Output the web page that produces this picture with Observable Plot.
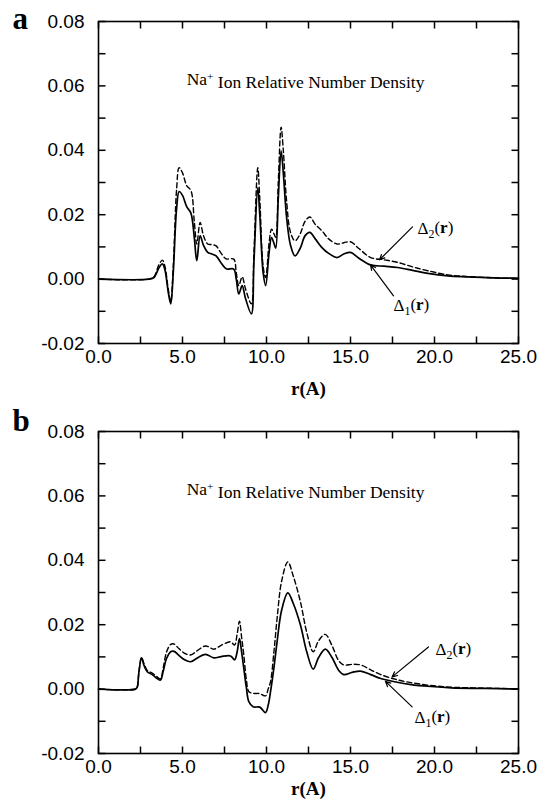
<!DOCTYPE html>
<html>
<head>
<meta charset="utf-8">
<script src="https://cdn.jsdelivr.net/npm/d3@7"></script>
<script src="https://cdn.jsdelivr.net/npm/@observablehq/plot@0.6"></script>
<style>
  html, body { margin: 0; padding: 0; background: #fff; }
  #wrap { position: relative; width: 542px; height: 800px; overflow: hidden; background: #fff; }
  .pane { position: absolute; left: 0; }
</style>
</head>
<body>
<div id="wrap">
  <div id="pa" class="pane" style="top:0px"></div>
  <div id="pb" class="pane" style="top:410px"></div>
</div>
<script>
// ---------- Data ----------
// Panel a : r (Å), Δ1 (solid), Δ2 (dashed)
const rA  = [0, 3.0, 3.3, 3.6, 3.8, 3.95, 4.15, 4.3, 4.45, 4.65, 4.8, 5.0, 5.25, 5.5, 5.7, 5.85, 6.05, 6.25, 6.5, 6.75, 7.0, 7.3, 7.6, 8.05, 8.2, 8.35, 8.55, 8.75, 9.1, 9.25, 9.48, 9.6, 9.8, 9.95, 10.15, 10.3, 10.45, 10.55, 10.7, 10.87, 11.0, 11.2, 11.43, 11.7, 12.0, 12.3, 12.58, 12.9, 13.3, 13.7, 14.2, 14.6, 15.0, 15.5, 16.2, 17.0, 17.8, 18.7, 19.6, 20.8, 21.9, 23.5, 25];
const a1 = [0, 0, 0.0005, 0.0035, 0.0047, 0.003, -0.004, -0.0077, 0.002, 0.022, 0.0272, 0.026, 0.0225, 0.0205, 0.013, 0.0057, 0.0134, 0.0105, 0.0083, 0.0078, 0.0072, 0.005, 0.0032, 0.0031, 0.0, -0.0046, -0.002, -0.006, -0.0108, 0.005, 0.0284, 0.02, 0.002, -0.002, 0.008, 0.0129, 0.011, 0.0096, 0.025, 0.0398, 0.033, 0.019, 0.0105, 0.0072, 0.0095, 0.0135, 0.0145, 0.0125, 0.0098, 0.008, 0.0067, 0.0078, 0.0083, 0.0065, 0.0044, 0.004, 0.0036, 0.0027, 0.0018, 0.001, 0.0007, 0.0004, 0.0003];
const a2 = [0, 0, 0.0007, 0.0045, 0.0059, 0.004, -0.003, -0.007, 0.004, 0.028, 0.0346, 0.033, 0.029, 0.0275, 0.018, 0.0109, 0.0176, 0.0135, 0.0109, 0.0107, 0.0103, 0.008, 0.0063, 0.0062, 0.002, -0.002, 0.0007, -0.003, -0.0077, 0.008, 0.0346, 0.025, 0.004, 0.0005, 0.011, 0.0155, 0.014, 0.013, 0.03, 0.0472, 0.04, 0.024, 0.0145, 0.0119, 0.014, 0.018, 0.0193, 0.017, 0.015, 0.0125, 0.0109, 0.0113, 0.0116, 0.0095, 0.0067, 0.006, 0.0052, 0.0038, 0.0026, 0.0013, 0.0008, 0.0004, 0.0002];

// Panel b : r (Å), Δ1 (solid), Δ2 (dashed)
const rB  = [0, 2.2, 2.3, 2.4, 2.56, 2.7, 2.9, 3.2, 3.49, 3.69, 3.85, 4.05, 4.3, 4.5, 4.8, 5.1, 5.48, 5.9, 6.37, 6.87, 7.3, 7.86, 8.1, 8.25, 8.39, 8.52, 8.65, 8.8, 8.95, 9.2, 9.6, 9.94, 10.1, 10.24, 10.45, 10.63, 10.9, 11.27, 11.6, 12.02, 12.4, 12.78, 13.1, 13.5, 13.9, 14.3, 14.6, 15.1, 15.6, 16.2, 16.8, 17.7, 18.6, 19.8, 21.0, 23.0, 25];
const b1 = [0, 0, 0.0005, 0.005, 0.0097, 0.0075, 0.0054, 0.0045, 0.0033, 0.0028, 0.0055, 0.0095, 0.0116, 0.0117, 0.0104, 0.0092, 0.0085, 0.0097, 0.0108, 0.0097, 0.0101, 0.0103, 0.0091, 0.0115, 0.0157, 0.0115, 0.0064, 0.0005, -0.0039, -0.0055, -0.0056, -0.0073, -0.005, -0.0008, 0.007, 0.0147, 0.0245, 0.0299, 0.0265, 0.0199, 0.0115, 0.0062, 0.0098, 0.0124, 0.0098, 0.0058, 0.0045, 0.0052, 0.0056, 0.0045, 0.0033, 0.0022, 0.0014, 0.0008, 0.0004, 0.0002, 0.0];
const b2 = [0, 0, 0.0005, 0.005, 0.0099, 0.008, 0.0058, 0.005, 0.0038, 0.0032, 0.0065, 0.0115, 0.0139, 0.014, 0.0125, 0.0112, 0.0106, 0.012, 0.0134, 0.0124, 0.0136, 0.0147, 0.0137, 0.017, 0.0211, 0.016, 0.0106, 0.003, -0.0008, -0.0013, -0.0014, -0.0021, 0.0, 0.0023, 0.012, 0.0219, 0.0335, 0.0395, 0.035, 0.0271, 0.0175, 0.0116, 0.015, 0.017, 0.0135, 0.0088, 0.0075, 0.0077, 0.0075, 0.006, 0.0045, 0.003, 0.002, 0.0011, 0.0006, 0.0003, 0.0001];

// Axis ticks
const xMajor = [0, 5, 10, 15, 20, 25];
const xAll   = [0, 2.5, 5, 7.5, 10, 12.5, 15, 17.5, 20, 22.5, 25];
const yMajor = [-0.02, 0, 0.02, 0.04, 0.06, 0.08];
const yAll   = [-0.02, -0.01, 0, 0.01, 0.02, 0.03, 0.04, 0.05, 0.06, 0.07, 0.08];

// Texts
const titleText = "Na+ Ion Relative Number Density";
const xLabel = "r(A)";
const labelsA = [{x: 18.99, y: 0.0156, t: "Δ2(r)"}, {x: 17.56, y: -0.0083, t: "Δ1(r)"}];
const arrowsA = [{x1: 18.69, y1: 0.0162, x2: 16.73, y2: 0.0060}, {x1: 17.56, y1: -0.0052, x2: 16.19, y2: 0.0044}];
const labelsB = [{x: 20.06, y: 0.0122, t: "Δ2(r)"}, {x: 18.81, y: -0.0089, t: "Δ1(r)"}];
const arrowsB = [{x1: 19.64, y1: 0.0131, x2: 17.48, y2: 0.0038}, {x1: 18.67, y1: -0.0055, x2: 17.08, y2: 0.0024}];

const xDom = [0, 25];
const yDom = [-0.02, 0.08];

function panel(opts) {
  const {r, s1, s2, letter, labels, arrows, height, mt, mb, letterDy, xlabDy} = opts;
  const ih = height - mt - mb;
  const iw = 542 - 98 - 24;
  const solid = r.map((x, i) => ({r: x, v: s1[i]}));
  const dashed = r.map((x, i) => ({r: x, v: s2[i]}));
  const serif = "Liberation Serif, Times New Roman, serif";
  const tl = 7;
  // inward tick length expressed in scale units
  const ty = (yDom[1] - yDom[0]) * tl / ih;
  const tx = (xDom[1] - xDom[0]) * tl / iw;
  const xt = xAll.map(v => ({v}));
  const yt = yAll.map(v => ({v}));
  const plot = Plot.plot({
    width: 542, height, marginTop: mt, marginBottom: mb, marginLeft: 98, marginRight: 24,
    x: {domain: xDom},
    y: {domain: yDom},
    style: {fontFamily: "Liberation Sans, Arial, sans-serif", fontSize: "19px", color: "black", background: "white", overflow: "visible"},
    marks: [
      Plot.line(dashed, {x: "r", y: "v", stroke: "black", strokeWidth: 1.4, strokeDasharray: "5,3", curve: "catmull-rom"}),
      Plot.line(solid, {x: "r", y: "v", stroke: "black", strokeWidth: 1.7, curve: "catmull-rom"}),
      Plot.link(xt, {x1: "v", x2: "v", y1: () => yDom[0], y2: () => yDom[0] + ty, stroke: "black", strokeWidth: 1.5}),
      Plot.link(xt, {x1: "v", x2: "v", y1: () => yDom[1], y2: () => yDom[1] - ty, stroke: "black", strokeWidth: 1.5}),
      Plot.link(yt, {y1: "v", y2: "v", x1: () => xDom[0], x2: () => xDom[0] + tx, stroke: "black", strokeWidth: 1.5}),
      Plot.link(yt, {y1: "v", y2: "v", x1: () => xDom[1], x2: () => xDom[1] - tx, stroke: "black", strokeWidth: 1.5}),
      Plot.axisX({ticks: xMajor, tickSize: 0, tickPadding: 6, tickFormat: d => d.toFixed(1), label: null}),
      Plot.axisY({ticks: yMajor, tickSize: 0, tickPadding: 14, tickFormat: d => d.toFixed(2), label: null}),
      Plot.frame({stroke: "black", strokeWidth: 1.6}),
      Plot.arrow(arrows, {x1: "x1", y1: "y1", x2: "x2", y2: "y2", stroke: "black", strokeWidth: 1.2, headLength: 7, headAngle: 50}),
      Plot.text(labels, {x: "x", y: "y", text: "t", textAnchor: "start", fontFamily: serif, fontSize: 17, fill: "black"}),
      Plot.text([titleText], {frameAnchor: "top", lineAnchor: "middle", dy: 58, dx: -3, fontFamily: serif, fontSize: 17.5, fill: "black"}),
      Plot.text([letter], {frameAnchor: "top-left", lineAnchor: "middle", dx: -86, dy: letterDy, textAnchor: "start", fontFamily: serif, fontWeight: "bold", fontSize: 31, fill: "black"}),
      Plot.text([xLabel], {frameAnchor: "bottom", lineAnchor: "middle", dy: xlabDy, fontFamily: serif, fontWeight: "bold", fontSize: 19, fill: "black"})
    ]
  });
  // rich text: subscripts / superscript
  d3.select(plot).selectAll("text").each(function () {
    const el = d3.select(this);
    const t = this.textContent;
    const m = /^Δ(\d)\(r\)$/.exec(t);
    if (m) {
      el.text(null);
      el.append("tspan").text("Δ");
      el.append("tspan").attr("dy", "0.3em").attr("font-size", "0.7em").text(m[1]);
      el.append("tspan").attr("dy", "-0.3em").text("(");
      el.append("tspan").attr("font-weight", "bold").text("r");
      el.append("tspan").text(")");
    } else if (t === titleText) {
      el.text(null);
      el.append("tspan").text("Na");
      el.append("tspan").attr("dy", "-0.45em").attr("font-size", "0.65em").text("+");
      el.append("tspan").attr("dy", "0.45em").text(" Ion Relative Number Density");
    }
  });
  return plot;
}

document.getElementById("pa").appendChild(panel({r: rA, s1: a1, s2: a2, letter: "a", labels: labelsA, arrows: arrowsA, height: 400, mt: 21, mb: 57, letterDy: -2, xlabDy: 45}));
document.getElementById("pb").appendChild(panel({r: rB, s1: b1, s2: b2, letter: "b", labels: labelsB, arrows: arrowsB, height: 390, mt: 21, mb: 47, letterDy: -10, xlabDy: 35}));
</script>
</body>
</html>
